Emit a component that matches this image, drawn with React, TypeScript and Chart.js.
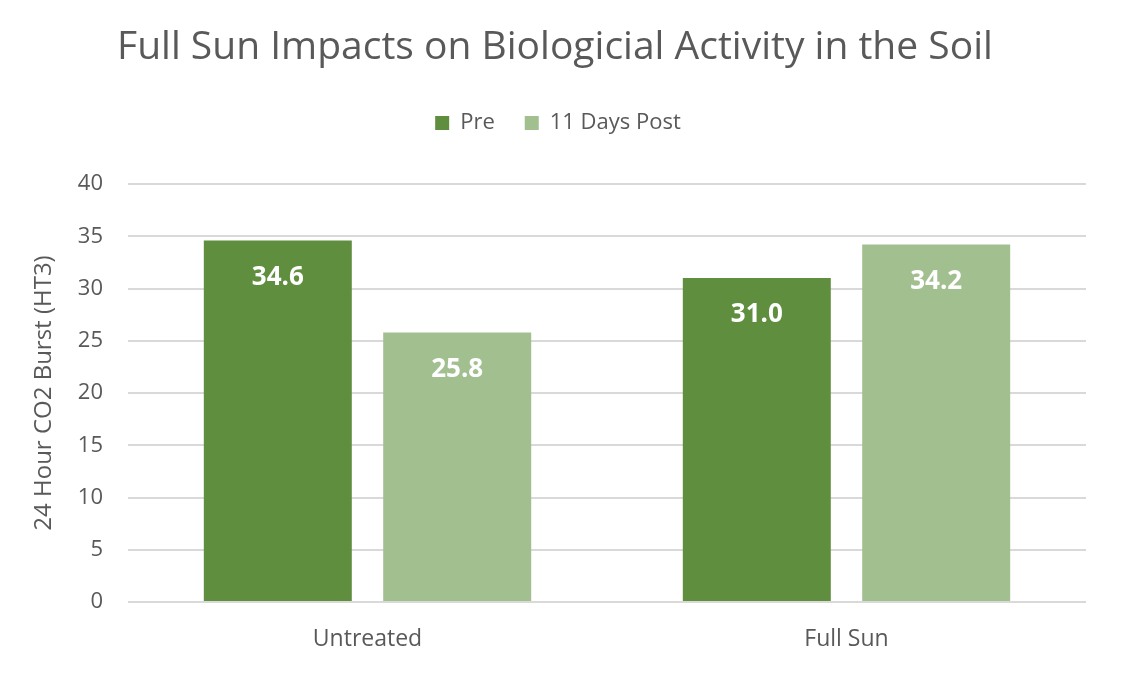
import React, { useEffect, useRef } from "react";
import { Chart, registerables } from "chart.js";

Chart.register(...registerables);

const chartTitle = "Full Sun Impacts on Biologicial Activity in the Soil";
const yAxisTitle = "24 Hour CO2 Burst (HT3)";
const categories = ["Untreated", "Full Sun"];
const seriesNames = ["Pre", "11 Days Post"];
const preValues = [34.6, 31.0];
const postValues = [25.8, 34.2];
const yTicks = [0, 5, 10, 15, 20, 25, 30, 35, 40];

const FONT = "'Open Sans', Lato, sans-serif";
const GRAY = "#595959";

const titlePlugin = {
  id: "customTitle",
  afterDraw(chart: any) {
    const ctx = chart.ctx;
    ctx.save();
    ctx.font = `39px ${FONT}`;
    ctx.fillStyle = GRAY;
    ctx.textAlign = "left";
    ctx.textBaseline = "alphabetic";
    ctx.fillText(chartTitle, 117, 59);
    ctx.restore();
  },
};

const legendMargin = {
  id: "legendMargin",
  beforeInit(chart: any) {
    const legend = chart.legend;
    if (!legend) return;
    const origFit = legend.fit;
    legend.fit = function () {
      origFit.call(this);
      this.height += 40;
    };
  },
};

const valueLabelPlugin = {
  id: "valueLabels",
  afterDatasetsDraw(chart: any) {
    const ctx = chart.ctx;
    ctx.save();
    ctx.font = `bold 26px ${FONT}`;
    ctx.fillStyle = "#ffffff";
    ctx.textAlign = "center";
    ctx.textBaseline = "middle";
    chart.data.datasets.forEach((ds: any, di: number) => {
      const meta = chart.getDatasetMeta(di);
      meta.data.forEach((bar: any, i: number) => {
        ctx.fillText(Number(ds.data[i]).toFixed(1), bar.x, bar.y + 37);
      });
    });
    ctx.restore();
  },
};

export default function App() {
  const ref = useRef<HTMLCanvasElement | null>(null);
  useEffect(() => {
    document.body.style.margin = "0";
    if (!ref.current) return;
    const chart = new Chart(ref.current, {
      type: "bar",
      data: {
        labels: categories,
        datasets: [
          { label: seriesNames[0], data: preValues, backgroundColor: "#5F8E3F" },
          { label: seriesNames[1], data: postValues, backgroundColor: "#A2BF8F" },
        ],
      },
      options: {
        animation: false,
        responsive: false,
        devicePixelRatio: 1,
        layout: { padding: { top: 82, left: 30, right: 62, bottom: 0 } },
        datasets: { bar: { categoryPercentage: 0.749, barPercentage: 0.825 } },
        plugins: {
          title: { display: false },
          tooltip: { enabled: false },
          legend: {
            position: "top",
            labels: {
              boxWidth: 14,
              boxHeight: 14,
              padding: 30,
              color: GRAY,
              font: { family: FONT, size: 22 },
            },
          },
        },
        scales: {
          x: {
            grid: { display: false, drawTicks: false },
            border: { display: false },
            ticks: { color: GRAY, font: { family: FONT, size: 23 }, padding: 24 },
            afterFit(scale: any) {
              scale.height = 94;
            },
          },
          y: {
            min: 0,
            max: 40,
            afterBuildTicks(scale: any) {
              scale.ticks = yTicks.map((v) => ({ value: v }));
            },
            grid: { color: "#d9d9d9", lineWidth: 2, drawTicks: false },
            border: { display: false },
            ticks: { color: GRAY, font: { family: FONT, size: 22 }, padding: 25 },
            title: {
              display: true,
              text: yAxisTitle,
              color: GRAY,
              font: { family: FONT, size: 24 },
              padding: { top: 0, bottom: 0 },
            },
            afterFit(scale: any) {
              scale.width = 98;
            },
          },
        },
      },
      plugins: [legendMargin, titlePlugin, valueLabelPlugin],
    } as any);
    return () => chart.destroy();
  }, []);
  return (
    <div style={{ position: "absolute", left: 0, top: 0, width: 1148, height: 696, background: "#fff" }}>
      <canvas ref={ref} width={1148} height={696} style={{ width: 1148, height: 696 }} />
    </div>
  );
}
